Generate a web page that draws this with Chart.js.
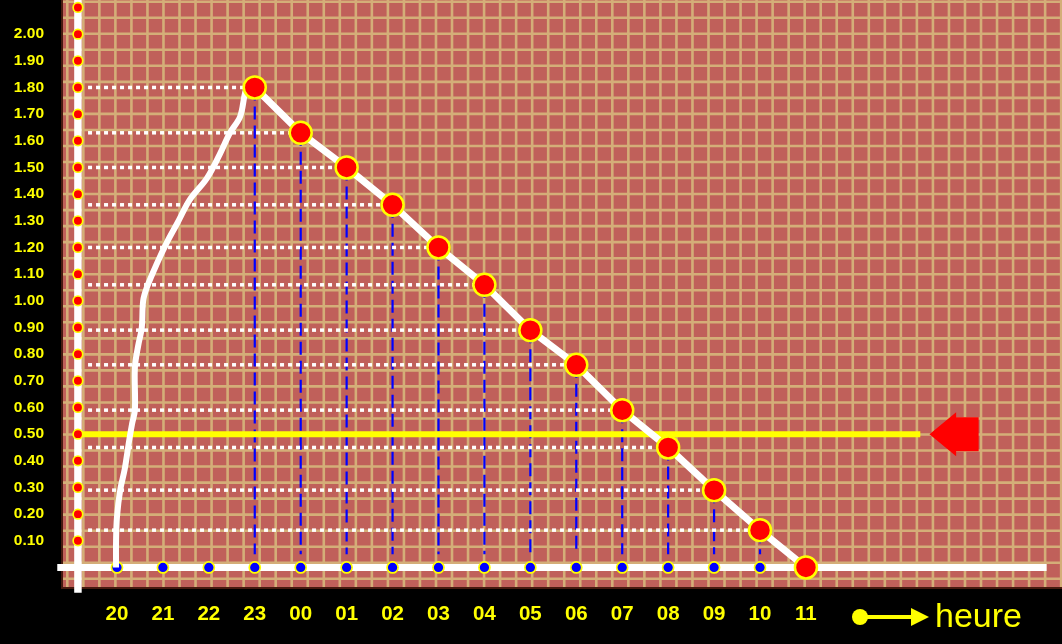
<!DOCTYPE html>
<html>
<head>
<meta charset="utf-8">
<script src="https://cdn.jsdelivr.net/npm/chart.js@4.4.1/dist/chart.umd.min.js"></script>
<style>
  html, body { margin: 0; padding: 0; background: #000; }
  #wrap { width: 1062px; height: 644px; position: relative; }
</style>
</head>
<body>
<div id="wrap"><canvas id="chart"></canvas></div>
<script>
// hours along the x axis (one category per tick)
const hourLabels = ['20', '21', '22', '23', '00', '01', '02', '03', '04', '05', '06', '07', '08', '09', '10', '11'];

// readings (hour -> value)
const releveHours = ['23', '00', '01', '02', '03', '04', '05', '06', '07', '08', '09', '10', '11'];
const releveValues = [1.80, 1.63, 1.50, 1.36, 1.20, 1.06, 0.89, 0.76, 0.59, 0.45, 0.29, 0.14, 0];

// hand drawn rising curve, x in hour steps from "20"
const montéeX = [-0.02, -0.02, 0.00, 0.07, 0.17, 0.26, 0.33, 0.39, 0.39, 0.46, 0.54, 0.57, 0.65, 0.87, 1.09, 1.31, 1.59, 1.96, 2.24, 2.46, 2.68, 2.79, 2.85];
const montéeY = [0.00, 0.10, 0.19, 0.29, 0.37, 0.47, 0.54, 0.59, 0.75, 0.83, 0.90, 1.00, 1.05, 1.14, 1.22, 1.29, 1.38, 1.46, 1.55, 1.63, 1.69, 1.78, 1.80];

// y axis
const yTickValues = [0.1, 0.2, 0.3, 0.4, 0.5, 0.6, 0.7, 0.8, 0.9, 1.0, 1.1, 1.2, 1.3, 1.4, 1.5, 1.6, 1.7, 1.8, 1.9, 2.0];
const yDotValues = [0.1, 0.2, 0.3, 0.4, 0.5, 0.6, 0.7, 0.8, 0.9, 1.0, 1.1, 1.2, 1.3, 1.4, 1.5, 1.6, 1.7, 1.8, 1.9, 2.0, 2.1];

const seuil = 0.5;          // yellow threshold
const seuilEnd = 17.49;     // where the yellow line stops (hour steps)

// axis frame (in scale units)
const X_MIN = -1.197, X_MAX = 20.575;
const Y_MIN = -0.077, Y_MAX = 2.128;
const Y_AXIS_AT = -0.85;

const YELLOW = '#ffff00';
const RED = '#ff0000';
const BLUE = '#0000ff';
const FONT = '"Liberation Sans", Arial, sans-serif';

const releve = releveHours.map((h, i) => ({ x: hourLabels.indexOf(h), y: releveValues[i] }));
const curve = montéeX.map((x, i) => ({ x: x, y: montéeY[i] }));

// scales keep their label overflow out of the layout
function noPadding(scale) {
    scale.paddingTop = 0;
    scale.paddingBottom = 0;
    scale.paddingLeft = 0;
    scale.paddingRight = 0;
}

const backdrop = {
    id: 'backdrop',
    beforeDraw(chart) {
        const { ctx, chartArea: a } = chart;
        ctx.save();
        ctx.fillStyle = '#000';
        ctx.fillRect(0, 0, chart.width, chart.height);
        ctx.fillStyle = 'rgb(192,96,90)';
        ctx.fillRect(a.left, a.top, a.right - a.left, a.bottom - a.top);
        // paper grid
        ctx.strokeStyle = 'rgb(212,174,120)';
        ctx.lineWidth = 2.6;
        ctx.beginPath();
        for (let x = a.left + 5.3; x < a.right; x += 16.03) {
            ctx.moveTo(x, a.top);
            ctx.lineTo(x, a.bottom);
        }
        for (let y = a.top + 1.7; y < a.bottom; y += 16.03) {
            ctx.moveTo(a.left, y);
            ctx.lineTo(a.right, y);
        }
        ctx.stroke();
        ctx.strokeStyle = 'rgb(70,25,15)';
        ctx.lineWidth = 2;
        ctx.beginPath();
        ctx.moveTo(a.left, a.top);
        ctx.lineTo(a.left, a.bottom);
        ctx.lineTo(a.right, a.bottom);
        ctx.stroke();
        ctx.restore();
    },
    beforeDatasetsDraw(chart) {
        // guide lines from each reading to both axes
        const { ctx } = chart;
        const xs = chart.scales.x, ys = chart.scales.y;
        ctx.save();
        releve.forEach(p => {
            if (p.y <= 0) return;
            const px = xs.getPixelForValue(p.x);
            const py = ys.getPixelForValue(p.y);
            ctx.strokeStyle = '#ffffff';
            ctx.lineWidth = 3.5;
            ctx.setLineDash([4, 4]);
            ctx.beginPath();
            ctx.moveTo(xs.getPixelForValue(-0.63), py);
            ctx.lineTo(px - 6, py);
            ctx.stroke();
            ctx.strokeStyle = BLUE;
            ctx.lineWidth = 2.2;
            ctx.setLineDash([13, 6]);
            ctx.beginPath();
            ctx.moveTo(px, py);
            ctx.lineTo(px, ys.getPixelForValue(0.05));
            ctx.stroke();
        });
        ctx.restore();
    },
    afterDraw(chart) {
        const { ctx } = chart;
        const xs = chart.scales.x, ys = chart.scales.y;
        ctx.save();
        // red arrow pointing at the threshold
        const cy = ys.getPixelForValue(seuil);
        const tip = xs.getPixelForValue(seuilEnd + 0.2);
        const base = xs.getPixelForValue(seuilEnd + 0.78);
        const end = xs.getPixelForValue(seuilEnd + 1.27);
        ctx.fillStyle = RED;
        ctx.beginPath();
        ctx.moveTo(tip, cy);
        ctx.lineTo(base, cy - 22);
        ctx.lineTo(base, cy - 17);
        ctx.lineTo(end, cy - 17);
        ctx.lineTo(end, cy + 17);
        ctx.lineTo(base, cy + 17);
        ctx.lineTo(base, cy + 22);
        ctx.closePath();
        ctx.fill();

        // "heure" axis title
        const ly = 617;
        ctx.fillStyle = YELLOW;
        ctx.strokeStyle = YELLOW;
        ctx.beginPath();
        ctx.arc(860, ly, 8, 0, Math.PI * 2);
        ctx.fill();
        ctx.lineWidth = 4;
        ctx.beginPath();
        ctx.moveTo(860, ly);
        ctx.lineTo(914, ly);
        ctx.stroke();
        ctx.beginPath();
        ctx.moveTo(929, ly);
        ctx.lineTo(911, ly - 9);
        ctx.lineTo(911, ly + 9);
        ctx.closePath();
        ctx.fill();
        ctx.font = '34px ' + FONT;
        ctx.textBaseline = 'alphabetic';
        ctx.fillText('heure', 935, 627);
        ctx.restore();
    }
};

new Chart(document.getElementById('chart'), {
    type: 'scatter',
    data: {
        datasets: [
            {
                label: 'y dots',
                data: yDotValues.map(v => ({ x: Y_AXIS_AT, y: v })),
                pointRadius: 4.8,
                pointBackgroundColor: RED,
                pointBorderColor: YELLOW,
                pointBorderWidth: 1.7,
                order: 1,
                clip: false
            },
            {
                label: 'relevés',
                data: releve,
                showLine: true,
                borderColor: '#ffffff',
                borderWidth: 7,
                tension: 0,
                pointRadius: 11,
                pointBackgroundColor: RED,
                pointBorderColor: YELLOW,
                pointBorderWidth: 2.5,
                order: 2,
                clip: false
            },
            {
                label: 'montée',
                data: curve,
                showLine: true,
                borderColor: '#ffffff',
                borderWidth: 6,
                tension: 0.35,
                pointRadius: 0,
                order: 3,
                clip: false
            },
            {
                label: 'x dots',
                data: hourLabels.slice(0, -1).map((h, i) => ({ x: i, y: 0 })),
                pointRadius: 5.5,
                pointBackgroundColor: BLUE,
                pointBorderColor: YELLOW,
                pointBorderWidth: 1.7,
                order: 4,
                clip: false
            },
            {
                label: 'seuil',
                data: [{ x: Y_AXIS_AT, y: seuil }, { x: seuilEnd, y: seuil }],
                showLine: true,
                borderColor: YELLOW,
                borderWidth: 6,
                pointRadius: 0,
                order: 5,
                clip: false
            },
            {
                label: 'axe y',
                data: [{ x: Y_AXIS_AT, y: -0.095 }, { x: Y_AXIS_AT, y: Y_MAX }],
                showLine: true,
                borderColor: '#ffffff',
                borderWidth: 7.5,
                pointRadius: 0,
                order: 6,
                clip: false
            },
            {
                label: 'axe x',
                data: [{ x: -1.3, y: 0 }, { x: 20.24, y: 0 }],
                showLine: true,
                borderColor: '#ffffff',
                borderWidth: 7,
                pointRadius: 0,
                order: 7,
                clip: false
            }
        ]
    },
    options: {
        responsive: true,
        maintainAspectRatio: false,
        animation: false,
        layout: { padding: 0, autoPadding: false },
        plugins: {
            legend: { display: false },
            tooltip: { enabled: false }
        },
        scales: {
            x: {
                type: 'linear',
                min: X_MIN,
                max: X_MAX,
                grid: { display: false, drawTicks: false },
                border: { display: false },
                afterBuildTicks: scale => { scale.ticks = hourLabels.map((h, i) => ({ value: i })); },
                afterFit: scale => { scale.height = 56; noPadding(scale); },
                ticks: {
                    padding: 14,
                    color: YELLOW,
                    font: { family: FONT, size: 20.5, weight: 'bold' },
                    maxRotation: 0,
                    autoSkip: false,
                    callback: v => hourLabels[v]
                }
            },
            y: {
                type: 'linear',
                min: Y_MIN,
                max: Y_MAX,
                grid: { display: false, drawTicks: false },
                border: { display: false },
                afterBuildTicks: scale => { scale.ticks = yTickValues.map(v => ({ value: v })); },
                afterFit: scale => { scale.width = 62; noPadding(scale); },
                ticks: {
                    padding: 18,
                    color: YELLOW,
                    font: { family: FONT, size: 15.5, weight: 'bold' },
                    autoSkip: false,
                    callback: v => v.toFixed(2)
                }
            }
        }
    },
    plugins: [backdrop]
});
</script>
</body>
</html>
